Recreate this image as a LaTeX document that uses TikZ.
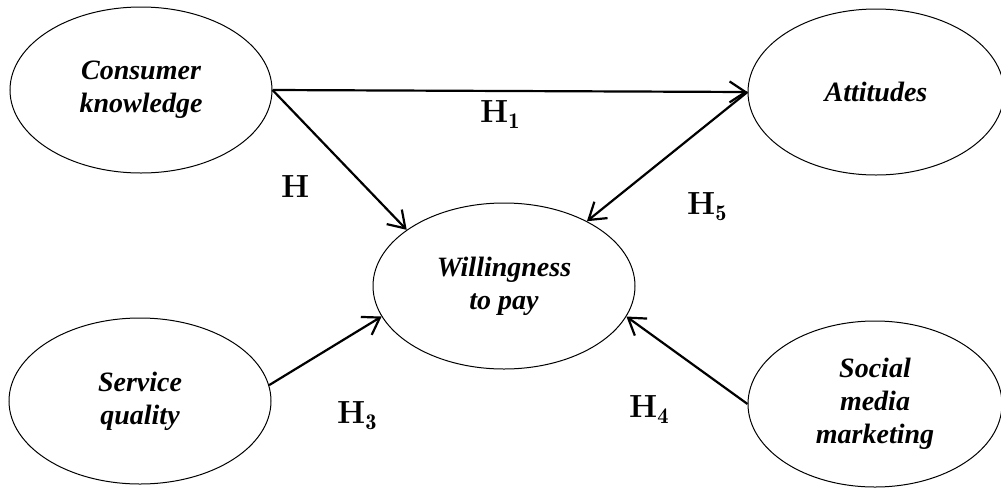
\documentclass[tikz,border=0pt]{standalone}
\usepackage{fontspec}
\usepackage{tikz}
\usepackage{xcolor}
\usetikzlibrary{arrows.meta, shapes.geometric}
\newfontfamily\timesfont{Liberation Serif}

\begin{document}
\begin{tikzpicture}[
  x=1pt, y=-1pt,
  construct/.style={draw, ellipse, line width=1pt, minimum width=262pt, minimum height=166pt, inner sep=0pt, align=center, font=\timesfont\bfseries\itshape\fontsize{28}{33}\selectfont},
  hyp/.style={inner sep=0pt, anchor=base west, font=\bfseries\fontsize{32}{36}\selectfont},
  link/.style={line width=2.2pt, -{Straight Barb[length=16pt, width=21pt]}}
]
  \useasboundingbox (0,0) rectangle (1001,488);

  \node[construct] (ck) at (141,90) {Consumer\\knowledge};
  \node[construct, minimum width=256pt] (att) at (876,92) {Attitudes};
  \node[construct] (wtp) at (504,286) {Willingness\\to pay};
  \node[construct] (sq) at (140,401) {Service\\quality};
  \node[construct, minimum width=254pt] (smm) at (875,404) {Social\\media\\marketing};

  \draw[link] (ck.east) -- (att.west);
  \draw[link] (ck.east) -- (wtp.150);
  \draw[link] (att.west) -- (wtp.38);
  \draw[link] (sq.7) -- (wtp.194);
  \draw[link] (smm.west) -- (wtp.346);

  \node[hyp] (h1) at (480,122) {H$_{\mathbf{1}}$};
  \node[hyp] (h2) at (281,197) {H};
  \node[hyp] (h5) at (687,214) {H$_{\mathbf{5}}$};
  \node[hyp] (h3) at (337,423) {H$_{\mathbf{3}}$};
  \node[hyp] (h4) at (629,417) {H$_{\mathbf{4}}$};
\end{tikzpicture}
\end{document}
